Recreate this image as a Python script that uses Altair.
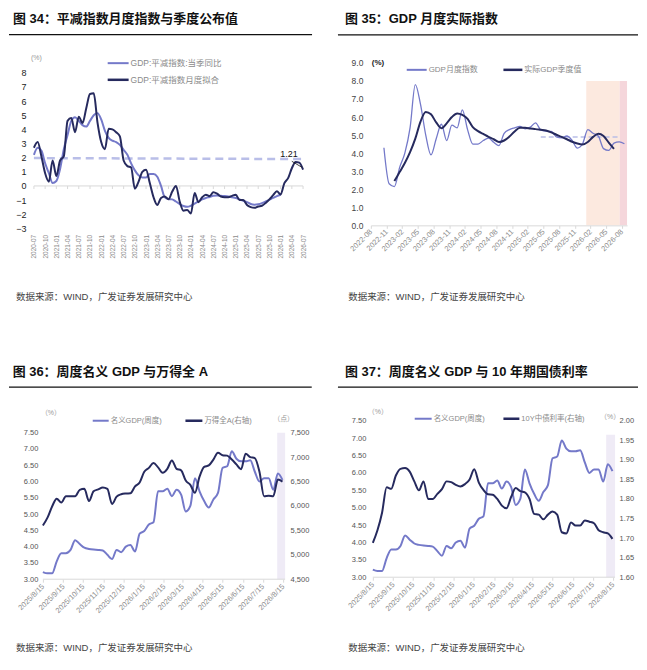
import json
import altair as alt
import pandas as pd

# ---------------- data ----------------
SOURCE = "数据来源：WIND，广发证券发展研究中心"

# Figure 34: deflator, monthly index 0 = 2020-07
p34_tick_labels = ["2020-07", "2020-10", "2021-01", "2021-04", "2021-07", "2021-10", "2022-01",
                   "2022-04", "2022-07", "2022-10", "2023-01", "2023-04", "2023-07", "2023-10",
                   "2024-01", "2024-04", "2024-07", "2024-10", "2025-01", "2025-04", "2025-07",
                   "2025-10", "2026-01", "2026-04", "2026-07"]
p34_quarterly = [2.2, 2.7, 2.5, 1.6, 0.9, 0.2, 0.35, 1.2, 2.6, 3.6,
                 4.6, 4.85, 4.6, 4.3, 4.2, 4.6, 5.0, 5.15, 4.7, 3.9,
                 3.4, 3.2, 3.1, 2.9, 2.55, 2.2, 1.6, 1.1, 0.75, 0.6,
                 0.6, 0.85, 0.85, 0.65, 0.0, -0.8, -0.92, -0.95, -1.1, -1.28,
                 -1.42, -1.48, -1.4, -1.25, -1.1, -0.95, -0.85, -0.78, -0.7, -0.68,
                 -0.7, -0.72, -0.75, -0.8, -0.85, -0.95, -1.05, -1.15, -1.28, -1.33,
                 -1.3, -1.22, -1.1, -0.97, -0.85, -0.72, -0.62]
p34_monthly = [2.7, 3.1, 2.1, 0.9, 0.3, 1.8, 0.7, 1.8, 2.1, 4.6,
               4.8, 3.8, 4.9, 4.45, 5.5, 6.5, 6.55, 4.5, 3.1, 2.6,
               4.05, 4.0, 3.8, 3.5, 1.8, 1.4, 1.3, -0.2, 0.3, 1.0,
               1.15, 0.2, -0.8, -1.35, -0.85, -0.75, -0.95, -0.4, 0.0, -1.1,
               -1.75, -1.7, -1.95, -0.5, -1.15, -0.8, -0.62, -0.72, -0.45, -0.55,
               -0.75, -0.8, -0.8, -0.7, -0.62, -1.0, -1.0, -1.35, -1.5, -1.55,
               -1.45, -1.4, -1.2, -0.95, -0.65, -0.38, -0.6, 0.2, 0.55, 1.25,
               1.7, 1.65, 1.15]
p34_reference = [1.97, 1.90]
p34_last_label = "1.21"

# Figure 35: monthly index 0 = 2022-08
p35_tick_labels = ["2022-08", "2022-11", "2023-02", "2023-05", "2023-08", "2023-11", "2024-02",
                   "2024-05", "2024-08", "2024-11", "2025-02", "2025-05", "2025-08", "2025-11",
                   "2026-02", "2026-05", "2026-08"]
p35_monthly_start = 2
p35_monthly = [4.3, 2.3, 2.15, 3.2, 4.0, 5.4, 7.8, 6.7, 5.0, 3.9,
               4.8, 5.6, 4.7, 5.55, 5.4, 6.4, 5.3, 4.5, 4.5, 4.7,
               4.83, 4.6, 4.42, 5.1, 5.3, 5.4, 5.48, 5.35, 5.44, 5.68,
               5.29, 5.22, 5.2, 4.9, 4.85, 4.95, 4.7, 4.28, 4.52, 5.3,
               5.1, 4.95, 4.25, 4.15, 4.55, 4.62, 4.52]
p35_quarterly_start = 4
p35_quarterly = [2.45, 2.95, 3.45, 4.05, 4.8, 5.75, 6.28, 6.15, 5.7, 5.38,
                 5.65, 6.0, 6.2, 6.12, 5.9, 5.44, 5.22, 5.06, 4.9, 4.77,
                 4.62, 4.7, 4.92, 5.2, 5.4, 5.4, 5.36, 5.33, 5.29, 5.25,
                 5.15, 5.02, 4.9, 4.77, 4.63, 4.53, 4.48, 4.62, 4.9, 5.07,
                 4.95, 4.58, 4.24]
p35_reference_span = [32, 47]
p35_reference_value = 4.9
p35_band_forecast = [41.2, 47.6]
p35_band_latest = [47.6, 49.0]
p35_band_top = 8.0

# Figures 36/37: weekly, from 2025-08-15
weekly_start = "2025-08-15"
weekly_tick_labels = ["2025/8/15", "2025/9/15", "2025/10/15", "2025/11/15", "2025/12/15",
                      "2026/1/15", "2026/2/15", "2026/3/15", "2026/4/15", "2026/5/15",
                      "2026/6/15", "2026/7/15", "2026/8/15"]
nominal_gdp = [3.22, 3.18, 3.18, 3.55, 3.8, 3.8, 3.9, 4.2, 4.08, 3.97,
               3.93, 3.91, 3.9, 3.88, 3.75, 3.62, 3.9, 3.83, 4.0, 4.05,
               3.85, 4.4, 4.48, 4.68, 4.75, 5.7, 5.7, 5.78, 5.55, 5.75,
               5.6, 5.08, 5.25, 6.1, 5.7, 5.4, 5.2, 5.45, 5.65, 6.42,
               6.47, 6.93, 6.7, 6.62, 6.62, 6.65, 6.3, 6.0, 6.1, 6.1,
               5.75, 6.25, 6.05]
wind_all_a = [5600, 5760, 5990, 6150, 6070, 6200, 6200, 6200, 6330, 6350,
              6100, 6300, 6340, 6380, 6350, 6040, 6190, 6240, 6255, 6260,
              6400, 6480, 6700, 6780, 6880, 6790, 6680, 6760, 6930, 6760,
              6730, 6520, 6430, 6270, 6600, 6800, 6830, 6950, 7090, 7040,
              7030, 6950, 6850, 6750, 7070, 7000, 6980, 6700, 6200, 6210,
              6200, 6540, 6500]
cgb_10y = [1.688, 1.72, 1.765, 1.83, 1.826, 1.86, 1.877, 1.879, 1.87, 1.845,
           1.822, 1.845, 1.8, 1.8, 1.813, 1.825, 1.845, 1.843, 1.836, 1.832,
           1.838, 1.85, 1.876, 1.842, 1.823, 1.812, 1.811, 1.8, 1.783, 1.776,
           1.805, 1.828, 1.82, 1.817, 1.8, 1.762, 1.76, 1.748, 1.76, 1.768,
           1.76, 1.715, 1.712, 1.74, 1.732, 1.732, 1.745, 1.742, 1.738, 1.72,
           1.715, 1.712, 1.698]
p36_band_days = [356, 368]
p37_band_days = [354.5, 368]
p37_band_top = 7.1

# ---------------- style ----------------
FONT = "Liberation Sans, Noto Sans CJK SC"
LIGHT = "#7479C9"
DARK = "#262A5E"
DASH = "#B9BEE8"
LEG = "#8a8a8a"
ONE = pd.DataFrame({"k": [0]})


def txt(x, y, s, size=8, color="#333", align="left", weight="normal"):
    return alt.Chart(ONE).mark_text(text=s, fontSize=size, color=color, align=align,
                                    baseline="middle", fontWeight=weight, font=FONT
                                    ).encode(x=alt.value(x), y=alt.value(y))


def seg(x1, y1, x2, y2, color, width):
    return alt.Chart(ONE).mark_rule(color=color, strokeWidth=width).encode(
        x=alt.value(x1), y=alt.value(y1), x2=alt.value(x2), y2=alt.value(y2))


def frame(x1, y1, x2, y2):
    return alt.Chart(ONE).mark_rect(color="white").encode(
        x=alt.value(x1), y=alt.value(y1), x2=alt.value(x2), y2=alt.value(y2))


def decor(title, tx, ty, rx1, rx2, ry, sx, sy, fr):
    return [frame(*fr), txt(tx, ty, title, 13, "#111", weight="bold"),
            seg(rx1, ry, rx2, ry, "#111", 1.2), txt(sx, sy, SOURCE, 9.5, "#444")]


def legend_item(x1, x2, y, color, width, label, size=8):
    return [seg(x1, y, x2, y, color, width), txt(x2 + 2, y, label, size, LEG)]


def lookup_expr(labels, vals):
    return f"{json.dumps(labels)}[indexof({json.dumps(vals)}, datum.value)]"


def x_axis(vals, labels, angle, size, pad, ticks=True, domain=True):
    kw = dict(values=vals, labelExpr=lookup_expr(labels, vals), labelAngle=angle,
              labelAlign="right", labelBaseline="middle", labelFontSize=size,
              labelColor="#8c8c8c", labelPadding=pad, labelOverlap=False, labelFlush=False,
              grid=False, title=None, zindex=1, domain=domain, ticks=ticks)
    if domain:
        kw["domainColor"] = "#d9d9d9"
    if ticks:
        kw.update(tickColor="#d9d9d9", tickSize=3)
    return alt.Axis(**kw)


def y_axis(vals, size, color, pad, fmt=None, orient="left", offset=0, expr=None):
    kw = dict(values=vals, labelFontSize=size, labelColor=color, labelPadding=pad,
              labelOverlap=False, labelFlush=False, domain=False, ticks=False, grid=False,
              title=None, orient=orient, zindex=1, offset=offset)
    if fmt:
        kw["format"] = fmt
    if expr:
        kw["labelExpr"] = expr
    return alt.Axis(**kw)


# ---------------- figure 34 ----------------
p34_top = 8 + 10 / 14.18   # view top shared with figure 35
q_vals = [3 * i for i in range(len(p34_tick_labels))]
X34 = alt.X("m:Q", scale=alt.Scale(domain=[0, 72], nice=False, zero=False),
            axis=x_axis(q_vals, p34_tick_labels, -90, 6.5, 6, ticks=False, domain=False))
Y34 = alt.Y("v:Q", scale=alt.Scale(domain=[-3, p34_top], nice=False),
            axis=y_axis(list(range(-3, 9)), 9, "#222", 8))
df34q = pd.DataFrame({"m": range(len(p34_quarterly)), "v": p34_quarterly})
df34m = pd.DataFrame({"m": range(len(p34_monthly)), "v": p34_monthly})
df34r = pd.DataFrame({"m": [0, len(p34_monthly) - 1], "v": p34_reference})
df34z = pd.DataFrame({"m": [0], "m2": [len(p34_monthly) - 1], "v": [0]})
df34t = pd.DataFrame({"m": q_vals, "v": [0] * len(q_vals), "v2": [-0.22] * len(q_vals)})

p34 = alt.layer(
    *decor("图 34：平减指数月度指数与季度公布值", -21, -43.5, -25, 279, -28.3, -18, 234.7,
           (-25, -54, 297, 278)),
    txt(-3, -4.7, "(%)", 7, "#999"),
    alt.Chart(df34z).mark_rule(color="#d9d9d9", strokeWidth=1).encode(x=X34, x2="m2:Q", y=Y34),
    alt.Chart(df34t).mark_rule(color="#d9d9d9").encode(x=X34, y=Y34, y2="v2:Q"),
    alt.Chart(df34r).mark_line(color=DASH, strokeWidth=2.5, strokeDash=[8, 5]).encode(x=X34, y=Y34),
    alt.Chart(df34q).mark_line(color=LIGHT, strokeWidth=2, interpolate="monotone").encode(x=X34, y=Y34),
    alt.Chart(df34m).mark_line(color=DARK, strokeWidth=2, interpolate="monotone").encode(x=X34, y=Y34),
    txt(256, 91.3, p34_last_label, 9, "#111", align="center"),
    seg(258.7, 98.7, 268.7, 104.7, "#111", 0.8),
    *legend_item(74, 95, 0.3, LIGHT, 2, "GDP:平减指数:当季同比", 8.5),
    *legend_item(74, 95, 17, DARK, 2.5, "GDP:平减指数月度拟合", 8.5),
).properties(width=270, height=166)

# ---------------- figure 35 ----------------
m_vals = list(range(0, 49, 3))
X35 = alt.X("m:Q", scale=alt.Scale(domain=[0, 49], nice=False, zero=False),
            axis=x_axis(m_vals, p35_tick_labels, -45, 7.5, 2))
Y35 = alt.Y("v:Q", scale=alt.Scale(domain=[0, 9], nice=False),
            axis=y_axis(list(range(0, 10)), 8.5, "#444", 8, ".1f"))
df35m = pd.DataFrame({"m": [p35_monthly_start + i + 0.5 for i in range(len(p35_monthly))], "v": p35_monthly})
df35q = pd.DataFrame({"m": [p35_quarterly_start + i + 0.5 for i in range(len(p35_quarterly))], "v": p35_quarterly})
df35r = pd.DataFrame({"m": [p35_reference_span[0] + 0.5, p35_reference_span[1] + 0.5],
                      "v": [p35_reference_value, p35_reference_value]})
df35b1 = pd.DataFrame({"m": [p35_band_forecast[0]], "m2": [p35_band_forecast[1]], "v": [0], "v2": [p35_band_top]})
df35b2 = pd.DataFrame({"m": [p35_band_latest[0]], "m2": [p35_band_latest[1]], "v": [0], "v2": [p35_band_top]})

p35 = alt.layer(
    *decor("图 35：GDP 月度实际指数", -26, -43.7, -33, 268, -28, -22.7, 234.7, (-41, -54, 268, 278)),
    alt.Chart(df35b1).mark_rect(color="#FCE9DF").encode(x=X35, x2="m2:Q", y=Y35, y2="v2:Q"),
    alt.Chart(df35b2).mark_rect(color="#F5D6DB").encode(x=X35, x2="m2:Q", y=Y35, y2="v2:Q"),
    alt.Chart(df35r).mark_line(color=DASH, strokeWidth=1.5, strokeDash=[5, 3]).encode(x=X35, y=Y35),
    alt.Chart(df35m).mark_line(color=LIGHT, strokeWidth=1.3, interpolate="monotone").encode(x=X35, y=Y35),
    alt.Chart(df35q).mark_line(color=DARK, strokeWidth=2, interpolate="monotone").encode(x=X35, y=Y35),
    txt(1, 0, "(%)", 8, "#222", weight="bold"),
    *legend_item(36, 56, 7, LIGHT, 2, "GDP月度指数"),
    *legend_item(133, 152, 7, DARK, 2.5, "实际GDP季度值"),
).properties(width=257, height=163)

# ---------------- figures 36 / 37 ----------------
start = pd.Timestamp(weekly_start)
w_vals = [int((pd.Timestamp(s) - start).days) for s in weekly_tick_labels]
days = [7 * i for i in range(len(nominal_gdp))]
dfg = pd.DataFrame({"d": days, "v": nominal_gdp})
dfa = pd.DataFrame({"d": days, "r": wind_all_a})
dfb = pd.DataFrame({"d": days, "r": cgb_10y})
left_vals = [round(3 + 0.5 * i, 2) for i in range(10)]
W_END = 368
W_PX = 243


def weekly_panel(title, tx, ty, rx1, rx2, ry, sx, sy, fr, lpad, right_df, right_dom, right_vals,
                 right_fmt, rpad, band_days, band_top, units, legends, h, shift, top_px):
    ppd = W_PX / W_END
    x0 = -shift / ppd
    XW = alt.X("d:Q", scale=alt.Scale(domain=[x0, W_END], nice=False, zero=False),
               axis=x_axis(w_vals, weekly_tick_labels, -45, 7.5, 3, domain=False))
    ltop = 7.5 + top_px * 4.5 / h
    rtop = right_dom[1] + top_px * (right_dom[1] - right_dom[0]) / h
    YL = alt.Y("v:Q", scale=alt.Scale(domain=[3, ltop], nice=False),
               axis=y_axis(left_vals, 7.5, "#555", lpad, ".2f", offset=-shift))
    YR = alt.Y("r:Q", scale=alt.Scale(domain=[right_dom[0], rtop], nice=False, zero=False),
               axis=y_axis(right_vals, 7.5, "#555", rpad, orient="right",
                           expr=f"format(datum.value, '{right_fmt}')"))
    dfband = pd.DataFrame({"d": [band_days[0]], "d2": [band_days[1]], "v": [band_top], "v2": [3.0]})
    band = alt.Chart(dfband).mark_rect(color="#EFEBF6").encode(x=XW, x2="d2:Q", y=YL, y2="v2:Q")
    dfbase = pd.DataFrame({"d": [0], "d2": [W_END], "v": [3.0]})
    base = alt.Chart(dfbase).mark_rule(color="#d9d9d9").encode(x=XW, x2="d2:Q", y=YL)
    light = alt.Chart(dfg).mark_line(color=LIGHT, strokeWidth=2, interpolate="monotone").encode(x=XW, y=YL)
    dark = alt.Chart(right_df).mark_line(color=DARK, strokeWidth=2, interpolate="monotone").encode(x=XW, y=YR)
    extra = []
    for (ux, uy, us) in units:
        extra.append(txt(ux, uy, us, 7, "#999"))
    for lg in legends:
        extra.extend(legend_item(*lg, 7.5))
    return alt.layer(
        *decor(title, tx, ty, rx1, rx2, ry, sx, sy, fr),
        *extra,
        alt.layer(band, base, light),
        dark,
    ).resolve_scale(y="independent").properties(width=W_PX + shift, height=h + top_px)


# figure 36: view origin (33, 421) shared with column / row; plot starts at (42, 433)
p36 = weekly_panel("图 36：周度名义 GDP 与万得全 A", -21.3, -49.3, -25, 278.7, -33.7, -18, 228.3,
                   (-25, -81, 297, 241), 5, dfa, [4500, 7500], list(range(4500, 7501, 500)), ",", 5,
                   p36_band_days, 7.5,
                   [(7, -8, "（%）"), (240, -2, "（点）")],
                   [(59, 75, 0, LIGHT, 2, "名义GDP(周度)"), (152, 169, 0, DARK, 2.5, "万得全A(右轴)")],
                   147, 9, 12)
# figure 37: view origin (371, 421); plot starts at (373, 421)
p37 = weekly_panel("图 37：周度名义 GDP 与 10 年期国债利率", -26, -49.3, -33, 268, -33.7, -22.7, 228.3,
                   (-41, -81, 268, 241), 7, dfb, [1.6, 2.0], [round(1.6 + 0.05 * i, 2) for i in range(9)],
                   ".2f", 4, p37_band_days, p37_band_top,
                   [(-3, -9, "（%）"), (230, -4, "（%）")],
                   [(44, 61, -2, LIGHT, 2, "名义GDP(周度)"), (133, 149, -2, DARK, 2.5, "10Y中债利率(右轴)")],
                   157, 2, 0)

chart = alt.concat(p34, p35, p36, p37, columns=2, spacing=0, align="each").properties(
    padding=0).configure(font=FONT, padding=0).configure_view(stroke=None).configure_axis(
    labelFont="Liberation Sans", grid=False)

chart.save("out.html", embed_options={"renderer": "svg", "actions": False})
